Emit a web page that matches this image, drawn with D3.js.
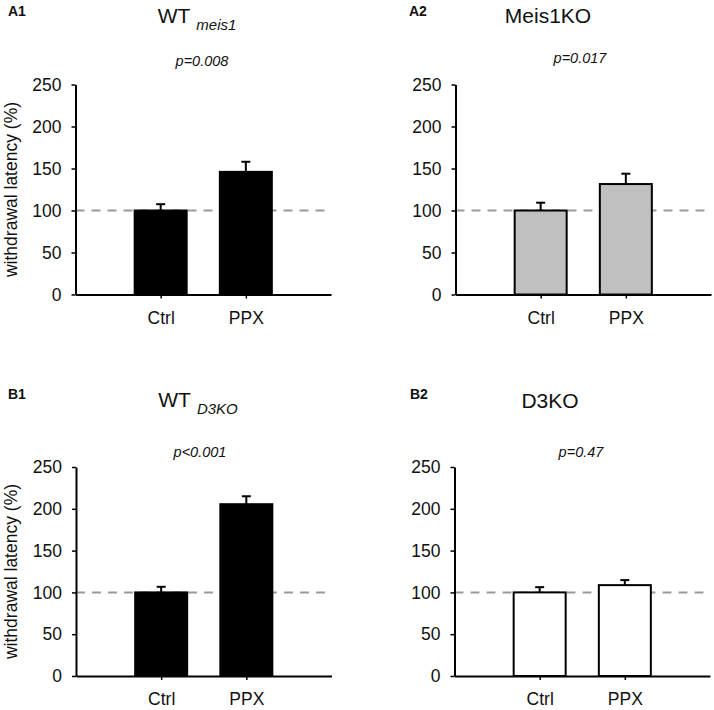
<!DOCTYPE html>
<html>
<head>
<meta charset="utf-8">
<script src="https://cdn.jsdelivr.net/npm/d3@7"></script>
<style>
  html, body { margin: 0; padding: 0; background: #fff; }
  svg { display: block; }
  text { font-family: "Liberation Sans", Arial, Helvetica, sans-serif; fill: #111; }
</style>
</head>
<body>
<svg id="chart" width="714" height="710"></svg>
<script>
// ---- data ----
const categories = ["Ctrl", "PPX"];
const yTicks = [0, 50, 100, 150, 200, 250];
const panelIds = ["A1", "A2", "B1", "B2"];
const pValues = ["p=0.008", "p=0.017", "p<0.001", "p=0.47"];
const titleMain = ["WT", "Meis1KO", "WT", "D3KO"];
const titleSub = ["meis1", "", "D3KO", ""];
const meansA1 = [100, 146];
const semA1 = [7.5, 12];
const meansA2 = [100, 131.5];
const semA2 = [9.3, 12.3];
const meansB1 = [100, 205.5];
const semB1 = [6.7, 9.5];
const meansB2 = [100, 108.7];
const semB2 = [6.3, 6];
const referenceLevel = 100;

// ---- layout ----
const svg = d3.select("#chart");
const panels = [
  { id: panelIds[0], means: meansA1, sem: semA1, fill: "#000", left: 75.5, bottom: 294.5, top: 84.5,
    labX: 8, labY: 16, tX: 197, tY: 23, pX: 202, pY: 66, p: pValues[0], main: titleMain[0], sub: titleSub[0], ylabel: true },
  { id: panelIds[1], means: meansA2, sem: semA2, fill: "#c0c0c0", left: 455.5, bottom: 294.5, top: 84.5,
    labX: 409, labY: 16, tX: 548, tY: 23, pX: 580, pY: 62.5, p: pValues[1], main: titleMain[1], sub: titleSub[1], ylabel: false },
  { id: panelIds[2], means: meansB1, sem: semB1, fill: "#000", left: 76, bottom: 676, top: 467,
    labX: 8, labY: 399, tX: 198, tY: 407, pX: 200, pY: 457, p: pValues[2], main: titleMain[2], sub: titleSub[2], ylabel: true },
  { id: panelIds[3], means: meansB2, sem: semB2, fill: "#fff", left: 454.5, bottom: 676, top: 467,
    labX: 410, labY: 399, tX: 550, tY: 408, pX: 581, pY: 457, p: pValues[3], main: titleMain[3], sub: titleSub[3], ylabel: false }
];
const axisLen = 255.5;
const barW = 52;
const fontFam = '"Liberation Sans", Arial, Helvetica, sans-serif';

panels.forEach(pn => {
  const g = svg.append("g");
  const x = d3.scalePoint().domain(categories).range([pn.left, pn.left + axisLen]).padding(1);
  const y = d3.scaleLinear().domain([0, 250]).range([pn.bottom, pn.top]);

  // reference dashed line
  g.append("line")
    .attr("x1", pn.left).attr("x2", pn.left + axisLen)
    .attr("y1", y(referenceLevel)).attr("y2", y(referenceLevel))
    .attr("stroke", "#9a9a9a").attr("stroke-width", 2)
    .attr("stroke-dasharray", "9,7");

  const rows = categories.map((c, i) => ({ c, m: pn.means[i], s: pn.sem[i] }));

  // error bars (upper)
  g.selectAll(".err").data(rows).enter().append("line")
    .attr("x1", d => x(d.c)).attr("x2", d => x(d.c))
    .attr("y1", d => y(d.m)).attr("y2", d => y(d.m + d.s))
    .attr("stroke", "#000").attr("stroke-width", 2);
  g.selectAll(".cap").data(rows).enter().append("line")
    .attr("x1", d => x(d.c) - 4.5).attr("x2", d => x(d.c) + 4.5)
    .attr("y1", d => y(d.m + d.s)).attr("y2", d => y(d.m + d.s))
    .attr("stroke", "#000").attr("stroke-width", 2);

  // bars
  g.selectAll(".bar").data(rows).enter().append("rect")
    .attr("x", d => x(d.c) - barW / 2)
    .attr("width", barW)
    .attr("y", d => y(d.m))
    .attr("height", d => y(0) - y(d.m))
    .attr("fill", pn.fill)
    .attr("stroke", "#000").attr("stroke-width", 2);

  // axes
  const yAxis = g.append("g").attr("transform", `translate(${pn.left},0)`)
    .call(d3.axisLeft(y).tickValues(yTicks).tickSize(4).tickSizeOuter(0).tickPadding(10));
  const xAxis = g.append("g").attr("transform", `translate(0,${pn.bottom})`)
    .call(d3.axisBottom(x).tickSize(4).tickSizeOuter(0).tickPadding(13));
  [yAxis, xAxis].forEach(a => {
    a.selectAll("path").attr("stroke", "#000").attr("stroke-width", 2);
    a.selectAll("line").attr("stroke", "#000").attr("stroke-width", 1.5);
    a.selectAll("text").attr("font-size", 17.5).attr("font-family", fontFam).attr("fill", "#111");
  });

  // y label
  if (pn.ylabel) {
    g.append("text")
      .attr("transform", `translate(17,${(pn.top + pn.bottom) / 2}) rotate(-90)`)
      .attr("text-anchor", "middle")
      .attr("font-size", 17.5)
      .text("withdrawal latency (%)");
  }

  // panel label
  g.append("text").attr("x", pn.labX).attr("y", pn.labY)
    .attr("font-size", 14).attr("font-weight", "bold").text(pn.id);

  // title
  const t = g.append("text").attr("x", pn.tX).attr("y", pn.tY)
    .attr("text-anchor", "middle").attr("font-size", 21);
  t.append("tspan").text(pn.main);
  if (pn.sub) {
    t.append("tspan").attr("dx", 6).attr("dy", 7).attr("font-size", 15)
      .attr("font-style", "italic").text(pn.sub);
  }

  // p value
  g.append("text").attr("x", pn.pX).attr("y", pn.pY)
    .attr("text-anchor", "middle").attr("font-size", 14.5)
    .attr("font-style", "italic").attr("fill", "#222").text(pn.p);
});
</script>
</body>
</html>
